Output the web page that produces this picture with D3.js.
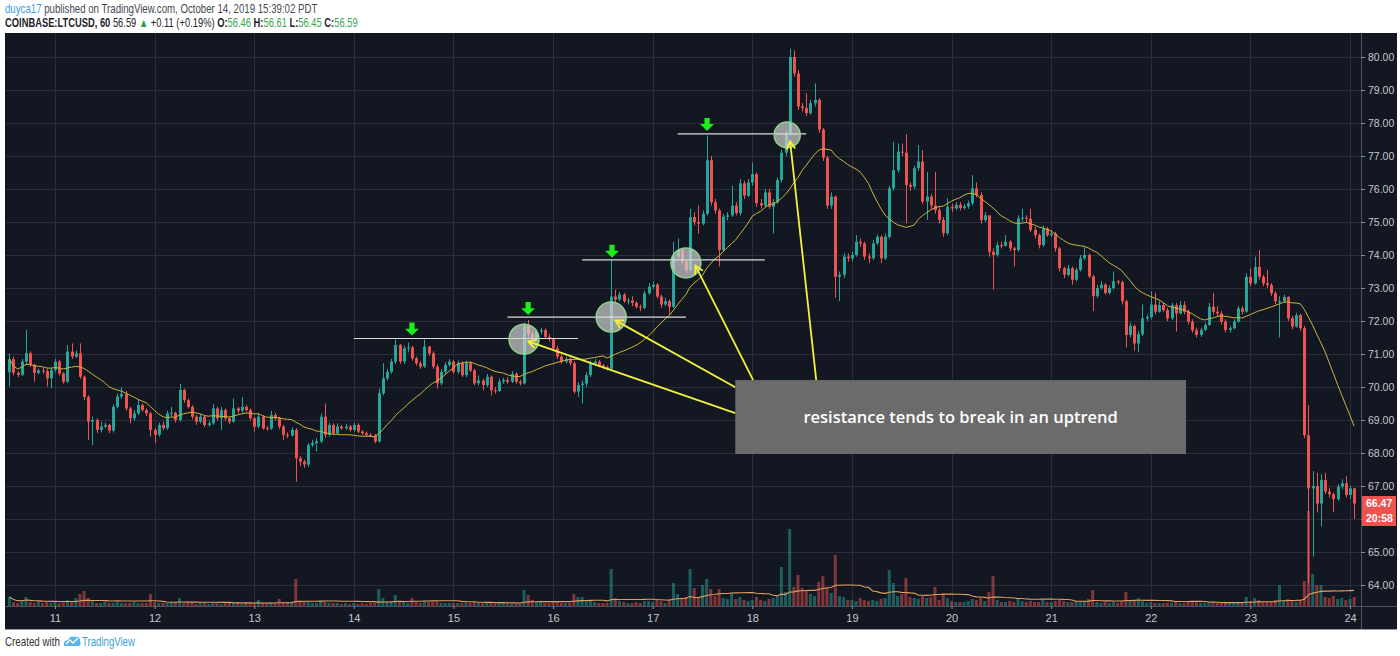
<!DOCTYPE html>
<html><head><meta charset="utf-8">
<script src="https://cdn.jsdelivr.net/npm/d3@7/dist/d3.min.js"></script>
<style>
html,body{margin:0;padding:0;background:#ffffff;}
svg{display:block;}
</style></head>
<body>
<svg id="chart" width="1400" height="656"></svg>
<script>
// ---------------- DATA ----------------
const startHour = -11;          // first candle: 11 hours before day "11" 00:00
const firstOpen = 70.45;
const dayLabels = ["11","12","13","14","15","16","17","18","19","20","21","22","23","24"];
const priceTicks = [64,65,66,67,68,69,70,71,72,73,74,75,76,77,78,79,80];

const closes = [
 70.84,70.43,70.37,70.77,71.02,70.67,70.43,70.50,70.48,70.26,70.52,
 70.77,70.41,70.16,71.07,70.92,71.02,70.31,69.70,68.95,69.00,68.70,68.80,
 68.85,68.68,69.40,69.71,69.79,69.35,69.05,69.20,69.45,69.30,69.20,68.70,
 68.55,68.85,68.75,69.20,69.22,69.00,69.91,69.60,69.40,69.10,68.95,69.10,
 68.85,68.90,69.35,69.05,69.30,69.05,68.95,69.35,69.28,69.40,69.30,69.05,
 68.80,69.10,68.75,68.74,69.15,69.05,68.80,68.55,68.53,68.70,67.84,67.74,
 67.65,68.24,68.30,68.35,69.10,68.55,68.85,68.60,68.80,68.75,68.80,68.70,
 68.85,68.65,68.60,68.55,68.53,68.35,69.81,70.26,70.46,70.77,71.27,70.77,
 71.17,71.20,70.87,70.72,70.62,71.22,71.02,70.62,70.11,70.46,70.67,70.77,
 70.46,70.72,70.36,70.72,70.50,70.11,70.20,70.06,70.31,69.90,69.88,70.16,
 70.21,70.16,70.40,70.16,70.11,71.85,71.60,71.48,71.68,71.72,71.52,71.45,
 71.17,70.92,70.77,70.85,70.72,69.86,70.06,70.10,70.36,70.72,70.77,70.65,
 70.60,70.55,72.74,72.65,72.80,72.60,72.62,72.55,72.43,72.40,72.84,73.04,
 73.10,72.74,72.50,72.60,72.43,73.95,74.15,73.80,73.55,75.15,75.00,74.95,
 75.25,76.87,75.60,75.35,74.15,75.16,75.20,75.50,75.27,76.17,75.80,76.20,
 76.45,75.57,75.50,75.90,75.46,75.60,76.27,77.10,77.68,80.00,79.50,78.50,
 78.45,78.30,78.60,78.70,77.80,76.95,75.50,75.77,73.34,73.40,73.95,73.90,
 74.00,74.40,74.35,73.95,73.90,74.35,74.55,73.90,74.55,76.02,76.57,77.13,
 77.10,76.12,76.07,76.63,76.83,75.62,75.77,75.50,75.36,75.06,74.66,75.46,
 75.41,75.52,75.42,75.47,75.57,76.02,75.82,75.06,75.20,74.10,74.00,74.30,
 74.28,74.40,74.20,74.15,75.11,75.13,75.10,74.76,74.60,74.30,74.80,74.60,
 74.65,74.20,73.60,73.40,73.60,73.25,73.55,73.90,74.00,73.35,72.75,73.00,
 73.10,72.85,73.00,73.20,73.18,72.60,71.58,71.85,71.32,71.60,72.08,72.12,
 72.50,72.28,72.48,72.33,72.08,72.48,72.23,72.48,72.28,71.98,71.72,71.58,
 71.73,71.88,72.43,72.28,72.23,71.98,71.73,71.78,71.98,72.38,72.28,73.34,
 73.14,73.64,73.34,73.14,73.09,72.84,72.60,72.60,72.73,72.08,71.83,72.18,
 71.78,68.54,66.93,67.00,66.47,67.18,66.83,66.75,66.60,66.98,67.08,66.73,66.93,66.47
];
const highs = [
 71.02,70.92,70.48,70.85,71.73,71.08,70.70,70.56,70.58,70.55,70.58,
 70.85,70.82,70.45,71.27,71.32,71.10,71.32,70.35,69.75,69.10,69.05,68.95,
 68.92,68.88,69.48,69.80,70.00,69.88,69.40,69.30,69.62,69.50,69.35,69.25,
 68.75,68.92,68.95,69.28,69.40,69.25,70.10,69.95,69.65,69.45,69.15,69.18,
 69.12,68.98,69.48,69.40,69.40,69.35,69.10,69.65,69.40,69.70,69.45,69.35,
 69.10,69.20,69.15,68.82,69.28,69.22,69.10,68.85,68.62,68.78,68.75,67.90,
 67.80,68.30,68.40,68.45,69.20,69.50,68.92,68.90,68.90,68.85,68.88,68.85,
 68.92,68.90,68.70,68.65,68.60,68.58,69.95,70.72,70.55,70.85,71.44,71.30,
 71.25,71.35,71.25,70.92,70.78,71.44,71.25,71.08,70.68,70.55,70.75,70.85,
 70.82,70.80,70.78,70.80,70.78,70.55,70.35,70.25,70.40,70.35,70.00,70.25,
 70.28,70.30,70.48,70.45,70.22,71.95,72.03,71.70,71.75,71.80,71.78,71.60,
 71.50,71.25,70.98,70.92,70.90,70.78,70.15,70.20,70.45,70.80,70.85,70.82,
 70.70,70.65,73.85,72.95,72.88,72.85,72.70,72.75,72.60,72.50,72.92,73.15,
 73.20,73.15,72.80,72.70,72.65,74.40,74.50,74.20,73.85,75.40,75.30,75.50,
 75.35,77.62,77.00,75.70,75.40,75.25,75.30,76.10,75.60,76.30,76.25,76.30,
 76.80,76.50,75.70,76.00,76.00,75.70,76.35,77.20,77.80,80.25,80.20,79.60,
 78.60,78.90,78.70,79.20,78.75,77.85,77.00,75.90,75.80,73.50,74.05,74.05,
 74.10,74.60,74.50,74.40,74.05,74.45,74.62,74.60,74.65,76.10,77.43,77.38,
 77.38,77.66,76.20,76.70,77.33,77.18,76.52,75.85,76.52,75.45,75.15,75.72,
 75.55,75.60,75.60,75.55,75.65,76.42,76.20,75.90,75.30,75.06,74.20,74.40,
 74.40,74.60,74.45,74.25,75.20,75.40,75.20,75.40,74.85,74.65,74.90,74.85,
 74.75,74.70,74.25,73.65,73.70,73.65,73.62,74.00,74.25,74.05,73.40,73.10,
 73.20,73.15,73.08,73.50,73.25,73.22,72.65,71.95,71.90,71.70,72.50,72.20,
 72.90,72.85,72.60,72.55,72.40,72.55,72.55,72.60,72.60,72.35,72.05,71.80,
 71.80,71.95,72.55,72.85,72.45,72.30,72.05,71.85,72.05,72.45,72.45,73.45,
 73.60,73.95,74.15,73.40,73.55,73.15,72.90,72.75,72.80,72.75,72.15,72.25,
 72.22,71.85,69.45,67.45,67.40,67.35,67.40,66.95,66.80,67.05,67.20,67.30,67.00,66.95
];
const lows = [
 70.01,70.35,70.30,70.33,70.70,70.60,70.16,70.38,70.40,70.01,69.96,
 70.45,70.35,70.10,70.12,70.85,70.88,70.25,69.60,68.40,68.24,68.60,68.62,
 68.75,68.60,68.62,69.35,69.65,69.28,68.90,68.98,69.15,69.25,69.12,68.50,
 68.30,68.50,68.68,68.70,69.10,68.92,68.95,69.52,69.35,69.02,68.85,68.90,
 68.78,68.80,68.85,68.98,68.70,68.98,68.88,68.92,69.20,69.22,69.25,68.98,
 68.65,68.75,68.70,68.68,68.70,68.98,68.72,68.40,68.45,68.50,67.13,67.60,
 67.55,67.58,68.18,68.05,68.30,68.45,68.50,68.55,68.55,68.70,68.70,68.65,
 68.65,68.60,68.55,68.50,68.48,68.30,68.32,69.75,70.20,70.40,70.70,70.70,
 70.70,71.05,70.80,70.65,70.55,70.58,70.95,70.55,69.95,70.05,70.40,70.62,
 70.40,70.40,70.30,70.30,70.45,70.05,70.05,69.90,70.00,69.75,69.80,69.85,
 70.10,70.10,70.12,70.10,70.05,70.08,71.50,71.40,71.42,71.60,71.45,71.38,
 71.10,70.85,70.70,70.72,70.65,69.80,69.70,69.50,70.00,70.30,70.65,70.60,
 70.55,70.50,70.50,72.55,72.60,72.55,72.50,72.45,72.38,72.30,72.35,72.80,
 72.98,72.68,72.40,72.45,72.20,72.40,73.90,73.70,73.45,73.50,74.90,74.65,
 74.90,75.20,75.50,75.25,73.65,74.10,75.05,75.15,75.20,75.20,75.70,75.75,
 76.10,75.45,75.40,75.45,75.40,74.65,75.55,76.20,77.00,77.60,79.40,78.40,
 78.35,78.20,78.25,78.50,77.70,76.85,75.40,75.40,72.70,72.60,73.30,73.80,
 73.80,73.95,74.25,73.85,73.75,73.85,74.30,73.75,73.85,74.50,75.95,76.50,
 77.00,74.96,75.95,76.00,76.55,75.55,75.06,75.40,75.25,74.95,74.55,74.60,
 75.30,75.35,75.35,75.38,75.40,75.50,75.75,74.95,75.00,73.95,72.95,73.95,
 74.20,74.25,74.12,73.65,74.10,75.00,75.00,74.70,74.50,74.20,74.25,74.55,
 74.55,74.10,73.50,73.30,73.35,73.10,73.20,73.50,73.85,73.30,72.30,72.70,
 72.95,72.80,72.80,72.95,73.10,72.50,71.20,71.50,71.10,71.05,71.55,72.00,
 72.05,72.20,72.25,72.28,72.00,72.02,71.68,72.20,72.20,71.90,71.65,71.50,
 71.52,71.70,71.85,72.20,72.15,71.90,71.65,71.65,71.75,71.95,72.20,72.25,
 73.05,73.10,73.25,73.05,73.00,72.75,72.50,71.50,72.55,72.00,71.75,71.80,
 71.70,68.45,64.05,64.86,66.20,65.77,66.75,66.65,66.22,66.55,66.90,66.65,66.60,66.00
];
const volumes = [
 9,4,3,5,9,4,3,4,3,4,3,
 4,3,3,6,4,8,12,15,8,5,3,3,
 4,3,3,4,3,3,3,4,3,3,3,12,
 4,3,3,3,4,3,8,3,3,3,2,3,
 3,2,3,3,2,3,3,3,3,2,3,3,
 3,6,3,3,4,3,7,3,4,3,27,5,
 4,4,3,3,5,4,3,3,3,2,3,2,
 3,2,3,2,3,3,17,8,5,5,11,5,
 4,3,8,4,3,5,4,4,5,3,3,3,
 3,3,3,3,3,4,3,3,3,4,3,3,
 3,3,3,2,3,16,11,6,4,4,3,3,
 4,4,3,3,3,12,9,9,6,5,4,3,
 3,3,37,8,5,4,3,3,4,3,5,5,
 4,6,5,3,5,23,12,8,9,37,18,9,
 21,27,17,10,17,8,7,13,7,9,6,5,
 6,9,6,5,7,8,10,39,14,77,19,31,
 18,15,12,10,24,30,17,13,51,10,9,6,
 6,5,8,6,5,6,5,7,8,36,23,10,
 12,28,9,8,7,10,8,9,19,6,13,8,
 5,4,4,4,5,7,6,8,5,14,30,6,
 4,4,5,4,8,5,4,5,4,4,6,4,
 4,5,6,5,4,4,5,4,5,7,16,4,
 3,4,3,4,3,5,14,6,6,8,5,3,
 4,3,3,3,3,3,4,3,3,4,5,4,
 3,3,4,3,3,4,3,3,3,4,3,9,
 5,8,6,4,4,5,6,21,5,7,5,4,
 6,25,95,32,21,21,9,8,10,7,8,6,7,9
];
const lastPrice = 66.47;
const countdown = "20:58";

// annotations (hours since day 11 00:00, prices)
const resistLevels = [71.47, 72.12, 73.85, 77.67];
const resistFrom   = [72, 109, 127, 150];
const resistTo     = [126, 152, 171, 181];
const signalHours  = [86, 114, 134.2, 157.1];
const signalPrices = [71.56, 72.18, 73.92, 77.76];
const circleHours  = [113, 134, 152, 176.4];
const circlePrices = [71.45, 72.12, 73.76, 77.64];
const circleRadius = [15, 15, 15, 13];
const pointerFrom  = [[163.9,69.21],[163.9,69.99],[168.2,70.21],[183.4,70.21]];
const pointerTo    = [[114,71.38],[135.0,72.02],[154.3,73.68],[177.1,77.45]];
const noteText = "resistance tends to break in an uptrend";
const noteHours = [163.9, 272.5];
const notePrices = [70.21, 67.97];

// ---------------- LAYOUT ----------------
const svg = d3.select("#chart");
const P = {l:5, t:33, r:1361, b:606, axisB:629, right:1397};
const x = d3.scaleLinear().domain([0, 312]).range([55, 1350]);
const y = d3.scaleLinear().domain([64, 80]).range([585, 57]);
const yv = d3.scaleLinear().domain([0, 100]).range([606, 506]);
const UP = "#26a69a", DN = "#ef5350";
const axisFont = "'Liberation Sans', Arial, sans-serif";

svg.append("rect").attr("x",0).attr("y",0).attr("width",1400).attr("height",656).attr("fill","#ffffff");
svg.append("rect").attr("x",P.l).attr("y",P.t).attr("width",P.right-P.l).attr("height",P.axisB-P.t).attr("fill","#131722");

const defs = svg.append("defs");
defs.append("clipPath").attr("id","plotclip").append("rect")
  .attr("x",P.l).attr("y",P.t).attr("width",P.r-P.l).attr("height",P.b-P.t);

const plot = svg.append("g").attr("clip-path","url(#plotclip)");

// grid
const dayHours = dayLabels.map((d,i)=>i*24);
plot.append("g").selectAll("line").data(priceTicks).join("line")
  .attr("x1",P.l).attr("x2",P.r).attr("y1",d=>Math.round(y(d))+0.5).attr("y2",d=>Math.round(y(d))+0.5)
  .attr("stroke","#2a2e39").attr("stroke-width",1);
plot.append("g").selectAll("line").data(dayHours).join("line")
  .attr("y1",P.t).attr("y2",P.b).attr("x1",d=>Math.round(x(d))+0.5).attr("x2",d=>Math.round(x(d))+0.5)
  .attr("stroke","#2a2e39").attr("stroke-width",1);

// candles data
const bars = closes.map((c,i)=>{
  const o = i ? closes[i-1] : firstOpen;
  return {h:startHour+i, o, c, hi:Math.max(highs[i],o,c), lo:Math.min(lows[i],o,c), v:volumes[i]};
});

// volume
plot.append("g").selectAll("rect").data(bars).join("rect")
  .attr("x",d=>x(d.h)-1.5).attr("width",3)
  .attr("y",d=>yv(d.v)).attr("height",d=>yv(0)-yv(d.v))
  .attr("fill",d=>d.c>=d.o?UP:DN).attr("opacity",0.5);

function sma(arr,n){ return arr.map((_,i)=>{const s=Math.max(0,i-n+1); return d3.mean(arr.slice(s,i+1));}); }
const volMA = sma(volumes,20);
plot.append("path").datum(bars).attr("fill","none").attr("stroke","#e0a060").attr("stroke-width",1.1)
  .attr("d", d3.line().x(d=>x(d.h)).y((d,i)=>yv(volMA[i])));

// wicks
plot.append("g").selectAll("line").data(bars).join("line")
  .attr("x1",d=>Math.round(x(d.h))+0.5).attr("x2",d=>Math.round(x(d.h))+0.5)
  .attr("y1",d=>y(d.hi)).attr("y2",d=>y(d.lo))
  .attr("stroke",d=>d.c>=d.o?UP:DN).attr("stroke-width",1);
// bodies
plot.append("g").selectAll("rect").data(bars).join("rect")
  .attr("x",d=>Math.round(x(d.h))-1).attr("width",3)
  .attr("y",d=>y(Math.max(d.o,d.c))).attr("height",d=>Math.max(1,Math.abs(y(d.o)-y(d.c))))
  .attr("fill",d=>d.c>=d.o?UP:DN);

// price MA 20
const priceMA = sma(closes,20);
plot.append("path").datum(bars).attr("fill","none").attr("stroke","#cdb53c").attr("stroke-width",1)
  .attr("d", d3.line().x(d=>x(d.h)).y((d,i)=>y(priceMA[i])));

// ---------- annotations ----------
const ann = svg.append("g").attr("clip-path","url(#plotclip)");
ann.selectAll("line.res").data(resistLevels).join("line").attr("class","res")
  .attr("x1",(d,i)=>x(resistFrom[i])).attr("x2",(d,i)=>x(resistTo[i]))
  .attr("y1",d=>y(d)).attr("y2",d=>y(d))
  .attr("stroke","#dcdcdc").attr("stroke-width",1.2);

ann.selectAll("circle").data(circleHours).join("circle")
  .attr("cx",d=>x(d)).attr("cy",(d,i)=>y(circlePrices[i])).attr("r",(d,i)=>circleRadius[i])
  .attr("fill","rgba(215,215,215,0.68)").attr("stroke","#8fd48a").attr("stroke-width",1.5);

ann.selectAll("path.sig").data(signalHours).join("path").attr("class","sig")
  .attr("d",(d,i)=>{const cx=x(d), ty=y(signalPrices[i]);
    return `M${cx-2.6},${ty-13} h5.2 v6.2 h4.3 L${cx},${ty} L${cx-7},${ty-6.8} h4.4 Z`;})
  .attr("fill","#19f019");

// yellow pointers
pointerFrom.forEach((f,i)=>{
  const x1=x(f[0]), y1=y(f[1]), x2=x(pointerTo[i][0]), y2=y(pointerTo[i][1]);
  ann.append("line").attr("x1",x1).attr("y1",y1).attr("x2",x2).attr("y2",y2)
    .attr("stroke","#f2f23a").attr("stroke-width",1.8);
  const a=Math.atan2(y1-y2,x1-x2), L=9, s=0.5;
  ann.append("path").attr("d",`M${x2+L*Math.cos(a+s)},${y2+L*Math.sin(a+s)} L${x2},${y2} L${x2+L*Math.cos(a-s)},${y2+L*Math.sin(a-s)}`)
    .attr("fill","none").attr("stroke","#f2f23a").attr("stroke-width",1.8);
});

// note box
ann.append("rect").attr("x",x(noteHours[0])).attr("y",y(notePrices[0]))
  .attr("width",x(noteHours[1])-x(noteHours[0])).attr("height",y(notePrices[1])-y(notePrices[0]))
  .attr("fill","#6b6b6b");
ann.append("text").attr("x",(x(noteHours[0])+x(noteHours[1]))/2).attr("y",(y(notePrices[0])+y(notePrices[1]))/2+5.5)
  .attr("text-anchor","middle").attr("fill","#ffffff")
  .style("font-family","'Open Sans', sans-serif").style("font-weight",600).style("font-size","16.5px")
  .text(noteText);

// ---------- axes ----------
svg.append("line").attr("x1",P.r+0.5).attr("x2",P.r+0.5).attr("y1",P.t).attr("y2",P.axisB).attr("stroke","#50535e");
svg.append("line").attr("x1",P.l).attr("x2",P.right).attr("y1",P.b+0.5).attr("y2",P.b+0.5).attr("stroke","#50535e");
svg.append("line").attr("x1",P.l).attr("x2",P.right).attr("y1",P.axisB+0.5).attr("y2",P.axisB+0.5).attr("stroke","#9a9ca3");

const yAxis = svg.append("g").attr("transform",`translate(${P.r},0)`)
  .call(d3.axisRight(y).tickValues(priceTicks).tickFormat(d3.format(".2f")).tickSize(4).tickPadding(3));
yAxis.select(".domain").remove();
yAxis.selectAll("line").attr("stroke","#8a8d96");
yAxis.selectAll("text").attr("fill","#c3c6ce").style("font-family",axisFont).style("font-size","10.5px");

const xAxis = svg.append("g").attr("transform",`translate(0,${P.b})`)
  .call(d3.axisBottom(x).tickValues(dayHours).tickFormat((d,i)=>dayLabels[i]).tickSize(3).tickPadding(5));
xAxis.select(".domain").remove();
xAxis.selectAll("line").attr("stroke","#8a8d96");
xAxis.selectAll("text").attr("fill","#c3c6ce").style("font-family",axisFont).style("font-size","11px");

// last price labels
const ly = y(lastPrice);
svg.append("rect").attr("x",P.r+1).attr("y",ly-7.5).attr("width",P.right-P.r-2).attr("height",15).attr("fill","#ef5350");
svg.append("text").attr("x",P.r+5).attr("y",ly+4).attr("fill","#ffffff")
  .style("font-family",axisFont).style("font-size","10.5px").style("font-weight","bold").text(d3.format(".2f")(lastPrice));
svg.append("rect").attr("x",P.r+1).attr("y",ly+7.5).attr("width",P.right-P.r-2).attr("height",15).attr("fill","#ef5350");
svg.append("text").attr("x",P.r+5).attr("y",ly+19).attr("fill","#ffffff")
  .style("font-family",axisFont).style("font-size","10.5px").style("font-weight","bold").text(countdown);

// ---------- header: one text per line, condensed horizontally to the reference width ----------
const hdrFont = "'Liberation Sans', Arial, sans-serif";
const GREEN = "#3aa54a", INK = "#1e222b";
const line1 = [
  {t:"duyca17", c:"#3d9fd6", b:false},
  {t:" published on TradingView.com, October 14, 2019 15:39:02 PDT", c:"#444a52", b:false}
];
const line2 = [
  {t:"COINBASE:LTCUSD, 60", c:INK, b:true},
  {t:" 56.59 ", c:INK, b:false},
  {t:"\u25B2", c:"#2e9e44", b:false},
  {t:" +0.11 (+0.19%) ", c:INK, b:false},
  {t:"O:", c:INK, b:true}, {t:"56.46 ", c:GREEN, b:false},
  {t:"H:", c:INK, b:true}, {t:"56.61 ", c:GREEN, b:false},
  {t:"L:", c:INK, b:true}, {t:"56.45 ", c:GREEN, b:false},
  {t:"C:", c:INK, b:true}, {t:"56.59", c:GREEN, b:false}
];
function condensed(segs, xx, yy, targetW, fs){
  const g = svg.append("g");
  const t = g.append("text").attr("x",0).attr("y",0).attr("xml:space","preserve")
    .style("white-space","pre").style("font-family",hdrFont).style("font-size",fs+"px");
  t.selectAll("tspan").data(segs).join("tspan")
    .attr("fill",d=>d.c).style("font-weight",d=>d.b?"bold":"normal").text(d=>d.t);
  const w = t.node().getComputedTextLength();
  g.attr("transform",`translate(${xx},${yy}) scale(${(targetW/w).toFixed(4)},1)`);
}
condensed(line1, 5, 13, 313, 12.5);
condensed(line2, 5, 27, 353, 12.5);

// ---------- footer ----------
svg.append("path").attr("d","M64,646 Q63,640 68,640 Q70,635 75,637 Q80,636 80,641 Q82,646 78,646 Z").attr("fill","#5bb4e8");
svg.append("path").attr("d","M66,644 L70,640 L73,643 L78,638").attr("fill","none").attr("stroke","#ffffff").attr("stroke-width",1.3);
condensed([{t:"Created with", c:"#333333", b:false}], 5, 646, 55, 12);
condensed([{t:"TradingView", c:"#3d9fd6", b:false}], 82, 646, 53, 12);
</script>
</body></html>
